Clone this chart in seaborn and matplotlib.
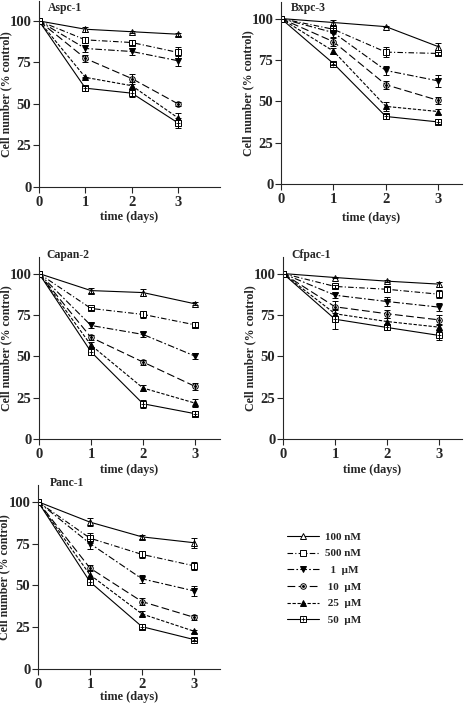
import numpy as np
import matplotlib
matplotlib.use("Agg")
import matplotlib.pyplot as plt
from matplotlib.lines import Line2D
import seaborn as sns
import pandas as pd

sns.set_style("ticks")
plt.rcParams['font.family'] = ['Liberation Serif', 'DejaVu Serif']
plt.rcParams['font.weight'] = 'bold'

days = [0, 1, 2, 3]
concs = ["100 nM", "500 nM", "1 \u00b5M", "10 \u00b5M", "25 \u00b5M", "50 \u00b5M"]
legend_labels = ["100 nM", "500 nM", "  1  \u00b5M", " 10  \u00b5M", " 25  \u00b5M", " 50  \u00b5M"]

# mean values (% control) per cell line, one row per concentration
aspc1 = [[100, 95.0, 93.5, 92.0],
         [100, 88.6, 87.0, 81.0],
         [100, 83.4, 81.6, 76.0],
         [100, 77.4, 65.3, 50.0],
         [100, 66.0, 61.0, 41.5],
         [100, 59.5, 56.5, 38.5]]
aspc1_err = [[0, 1.5, 0.5, 1.0], [0, 2.0, 1.5, 3.5], [0, 2.0, 2.0, 3.0],
             [0, 2.0, 3.0, 1.0], [0, 0.5, 2.0, 3.0], [0, 1.5, 2.5, 3.0]]

bxpc3 = [[100, 97.6, 95.1, 83.0],
         [100, 93.5, 79.7, 78.9],
         [100, 91.5, 68.6, 62.3],
         [100, 86.0, 60.0, 50.5],
         [100, 80.3, 46.9, 43.8],
         [100, 72.8, 40.8, 37.5]]
bxpc3_err = [[0, 1.5, 0.5, 2.0], [0, 2.0, 3.0, 1.0], [0, 2.5, 3.0, 3.5],
             [0, 2.5, 2.5, 2.0], [0, 2.0, 2.5, 1.5], [0, 1.0, 1.5, 1.5]]

capan2 = [[100, 89.7, 88.5, 81.7],
          [100, 78.9, 75.3, 69.0],
          [100, 68.6, 63.2, 50.1],
          [100, 61.4, 46.5, 31.8],
          [100, 56.7, 30.8, 21.7],
          [100, 52.7, 21.3, 15.3]]
capan2_err = [[0, 1.5, 2.0, 1.0], [0, 1.0, 2.0, 1.5], [0, 1.5, 1.5, 2.0],
              [0, 1.5, 1.5, 2.0], [0, 2.0, 2.0, 2.5], [0, 2.0, 2.5, 1.5]]

cfpac1 = [[100, 97.6, 95.4, 93.6],
          [100, 92.2, 90.5, 87.5],
          [100, 86.9, 83.1, 79.7],
          [100, 79.9, 75.7, 72.0],
          [100, 75.7, 71.0, 67.6],
          [100, 72.4, 67.4, 62.6]]
cfpac1_err = [[0, 0.5, 0.5, 1.5], [0, 1.0, 1.5, 2.5], [0, 1.5, 3.0, 2.5],
              [0, 3.5, 2.5, 3.0], [0, 2.0, 2.0, 2.0], [0, 6.0, 1.5, 2.5]]

panc1 = [[100, 87.8, 79.0, 75.5],
         [100, 78.2, 68.5, 61.7],
         [100, 75.0, 53.9, 46.7],
         [100, 60.3, 40.3, 30.9],
         [100, 56.3, 32.9, 22.6],
         [100, 52.1, 25.3, 17.6]]
panc1_err = [[0, 2.5, 1.0, 3.0], [0, 3.0, 2.0, 2.5], [0, 3.0, 2.5, 3.0],
             [0, 2.0, 2.0, 1.5], [0, 3.0, 1.5, 1.0], [0, 2.0, 1.5, 1.0]]

names = ["Aspc-1", "Bxpc-3", "Capan-2", "Cfpac-1", "Panc-1"]
values = [aspc1, bxpc3, capan2, cfpac1, panc1]
errors = [aspc1_err, bxpc3_err, capan2_err, cfpac1_err, panc1_err]

# line styles / markers per concentration
styles = [
    dict(ls='-', marker='^', mfc='white', inner=None),
    dict(ls=(0, (5, 2, 1, 2)), marker='s', mfc='white', inner=None),
    dict(ls=(0, (6, 2, 1.5, 2)), marker='v', mfc='black', inner=None),
    dict(ls=(0, (7, 3)), marker='o', mfc='white', inner='.'),
    dict(ls=(0, (3, 1.5)), marker='^', mfc='black', inner=None),
    dict(ls='-', marker='s', mfc='white', inner='+'),
]

W, H = 465, 717
fig = plt.figure(figsize=(W / 100, H / 100), dpi=100)

# axes boxes in pixels: left, right, bottom (y=0), top, xmax, ymax
boxes = [(39, 220, 187, 1, 3.9, 112),
         (281, 462, 184, 2, 3.45, 110),
         (39, 220, 439, 257, 3.48, 110),
         (283, 462, 439, 257, 3.44, 110),
         (38, 220, 669, 485, 3.5, 110)]
title_pos = [(48, 11), (291, 11), (46, 258), (291, 258), (50, 486)]
xlabel_top = [211, 212, 464, 464, 691]

for name, vals, errs, box, tpos, xlt in zip(names, values, errors, boxes, title_pos, xlabel_top):
    l, r, b, t, xmax, ymax = box
    ax = fig.add_axes([l / W, 1 - b / H, (r - l) / W, (b - t) / H])
    df = pd.DataFrame({"day": days * len(concs),
                       "value": np.ravel(vals),
                       "conc": np.repeat(concs, len(days))})
    for conc, st, err in zip(concs, styles, errs):
        sub = df[df["conc"] == conc]
        sns.lineplot(data=sub, x="day", y="value", ax=ax, color='k', lw=0.8,
                     linestyle=st['ls'], marker=st['marker'], markersize=4,
                     markerfacecolor=st['mfc'], markeredgecolor='k',
                     markeredgewidth=0.7, errorbar=None, legend=False)
        ax.errorbar(sub["day"], sub["value"], yerr=err, fmt='none', ecolor='k',
                    elinewidth=0.7, capsize=2, capthick=0.7)
        if st['inner']:
            ax.plot(sub["day"], sub["value"], linestyle='none', marker=st['inner'],
                    color='k', markersize=3.5 if st['inner'] == '+' else 3,
                    markeredgewidth=0.6)
    ax.set_xlim(0, xmax)
    ax.set_ylim(0, ymax)
    ax.set_xticks([0, 1, 2, 3])
    ax.set_yticks([0, 25, 50, 75, 100])
    ax.tick_params(direction='out', length=4.5, width=0.8, labelsize=10.5)
    ax.tick_params(axis='y', pad=1)
    ax.tick_params(axis='x', pad=2)
    for lab in ax.get_xticklabels() + ax.get_yticklabels():
        lab.set_fontweight('bold')
    sns.despine(ax=ax)
    for sp in ax.spines.values():
        sp.set_linewidth(0.8)
    ax.set_xlabel("")
    ax.set_ylabel("Cell number (% control)", fontsize=8.6, fontweight='bold')
    ax.yaxis.set_label_coords(-0.15, 0.5)
    fig.text(tpos[0] / W, 1 - tpos[1] / H, name, fontsize=8.5, fontweight='bold',
             va='baseline', ha='left')
    fig.text((l + r) / 2 / W, 1 - xlt / H, "time (days)", fontsize=8.8,
             fontweight='bold', va='top', ha='center')

handles = []
for st in styles:
    h = Line2D([], [], color='k', lw=0.8, linestyle=st['ls'], marker=st['marker'],
               markersize=4, markerfacecolor=st['mfc'], markeredgecolor='k',
               markeredgewidth=0.7)
    if st['inner']:
        h2 = Line2D([], [], linestyle='none', marker=st['inner'], color='k',
                    markersize=3.5 if st['inner'] == '+' else 3, markeredgewidth=0.6)
        h = (h, h2)
    handles.append(h)

fig.legend(handles, legend_labels, loc='upper left',
           bbox_to_anchor=(287 / W, 1 - 532 / H), frameon=False,
           prop={'size': 8, 'weight': 'bold'}, handlelength=2.9,
           labelspacing=0.62, handletextpad=0.5, borderpad=0, borderaxespad=0)

fig.savefig("out.png", dpi=100)
